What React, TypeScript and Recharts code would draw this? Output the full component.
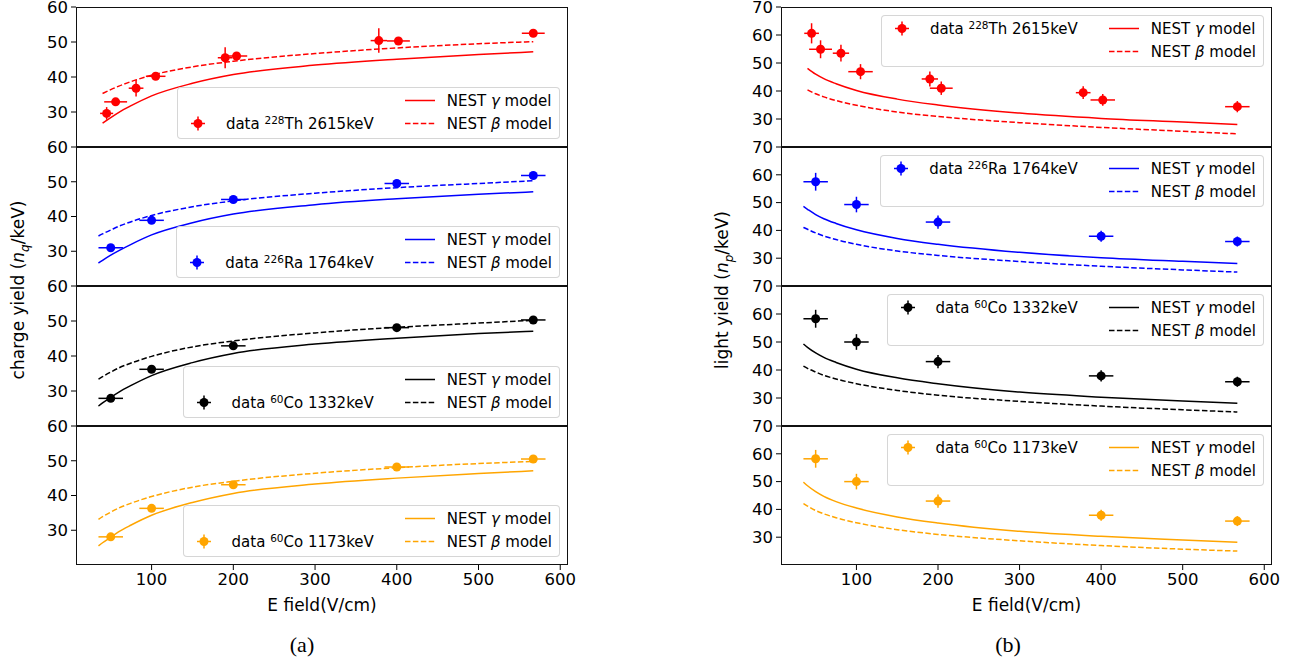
import React from "react";
import {
  ComposedChart,
  ErrorBar,
  Legend,
  Line,
  Scatter,
  XAxis,
  YAxis,
} from "recharts";

const FONT = '"DejaVu Sans", sans-serif';

// x positions of the measurements (V/cm)
const E_TH = [45, 56, 81, 105, 190, 204, 378, 402, 567];
const EX_TH = [8, 14, 9, 12, 9, 13, 10, 14, 14];
const E_CO = [50, 100, 200, 400, 567];
const EX_CO = [15, 15, 15, 15, 15];

// model curve sampling (V/cm)
const CURVE_E = [35, 40, 50, 60, 75, 100, 150, 200, 300, 400, 500, 567];
const CURVE_E_TH = [40, 50, 60, 75, 100, 150, 200, 300, 400, 500, 567];

// (a) charge yield
const Q_TH = [29.6, 32.9, 36.8, 40.2, 45.5, 46.0, 50.4, 50.3, 52.5];
const Q_TH_ERR = [1.8, 0.8, 2.4, 0.8, 3.0, 0.8, 3.5, 0.8, 0.8];
const Q_RA = [31.0, 38.9, 44.9, 49.5, 51.8];
const Q_CO1332 = [27.9, 36.2, 42.9, 48.1, 50.3];
const Q_CO1173 = [28.1, 36.3, 43.1, 48.2, 50.5];
const Q_ERR = [0.8, 0.8, 0.8, 0.8, 0.8];

const Q_GAMMA_TH = [26.8, 28.4, 29.9, 31.8, 34.6, 38.2, 40.7, 43.4, 45.1, 46.4, 47.2];
const Q_BETA_TH = [35.3, 36.4, 37.4, 38.7, 40.5, 42.9, 44.5, 46.7, 48.3, 49.5, 50.1];
const Q_GAMMA_RA = [26.6, 27.4, 28.9, 30.2, 32.0, 34.7, 38.2, 40.7, 43.4, 45.1, 46.4, 47.1];
const Q_BETA_RA = [34.4, 35.0, 36.1, 37.2, 38.5, 40.3, 42.8, 44.5, 46.7, 48.3, 49.5, 50.3];
const Q_GAMMA_CO1332 = [25.7, 26.6, 28.2, 29.7, 31.6, 34.4, 38.1, 40.7, 43.4, 45.1, 46.4, 47.1];
const Q_BETA_CO1332 = [33.4, 34.1, 35.4, 36.6, 38.0, 39.9, 42.6, 44.3, 46.6, 48.2, 49.4, 50.2];
const Q_GAMMA_CO1173 = [25.5, 26.4, 28.0, 29.6, 31.5, 34.3, 38.0, 40.6, 43.3, 45.0, 46.3, 47.1];
const Q_BETA_CO1173 = [33.1, 33.9, 35.2, 36.4, 37.8, 39.7, 42.4, 44.1, 46.4, 48.0, 49.2, 49.8];

// (b) light yield
const L_TH = [60.6, 54.9, 53.5, 46.9, 44.3, 41.0, 39.4, 36.8, 34.4];
const L_TH_ERR = [3.6, 3.2, 3.0, 2.7, 2.7, 2.4, 2.3, 2.1, 2.0];
const L_RA = [57.5, 49.3, 43.0, 37.9, 36.0];
const L_CO1332 = [58.3, 50.0, 43.0, 37.9, 35.8];
const L_CO1173 = [58.2, 50.0, 43.0, 37.9, 35.8];
const L_ERR = [3.2, 2.8, 2.4, 2.0, 1.8];

const L_GAMMA_TH = [48.1, 46.0, 44.4, 42.6, 40.2, 37.1, 35.0, 32.1, 30.2, 28.9, 28.0];
const L_BETA_TH = [40.4, 39.0, 37.9, 36.6, 34.9, 32.5, 30.9, 28.7, 27.0, 25.6, 24.7];
const L_GAMMA_RA = [48.6, 47.6, 45.7, 44.2, 42.5, 40.2, 37.1, 35.0, 32.1, 30.2, 28.9, 28.1];
const L_BETA_RA = [41.1, 40.4, 39.1, 38.0, 36.7, 35.0, 32.6, 31.0, 28.8, 27.1, 25.8, 25.0];
const L_GAMMA_CO1332 = [49.3, 48.1, 46.1, 44.5, 42.7, 40.3, 37.2, 35.1, 32.1, 30.3, 28.9, 28.1];
const L_BETA_CO1332 = [41.4, 40.6, 39.3, 38.1, 36.8, 35.1, 32.7, 31.0, 28.8, 27.1, 25.8, 25.0];
const L_GAMMA_CO1173 = [49.8, 48.5, 46.4, 44.7, 42.8, 40.5, 37.3, 35.1, 32.1, 30.3, 29.0, 28.2];
const L_BETA_CO1173 = [42.1, 41.2, 39.6, 38.4, 37.0, 35.2, 32.7, 31.0, 28.7, 27.0, 25.7, 25.0];

const SOURCES = [
  { color: "#ff0000", mass: "228", el: "Th", energy: "2615keV" },
  { color: "#0000ff", mass: "226", el: "Ra", energy: "1764keV" },
  { color: "#000000", mass: "60", el: "Co", energy: "1332keV" },
  { color: "#ffa500", mass: "60", el: "Co", energy: "1173keV" },
];

const X_DOMAIN = [7.5, 609.5];
const X_TICKS = [100, 200, 300, 400, 500, 600];

const ROW_TOPS = [7, 147, 286, 426];
const ROW_HEIGHTS = [140, 139, 140, 139];

interface Series {
  e: number[];
  y: number[];
  ex: number[];
  ey: number[];
  curveE: number[];
  gamma: number[];
  beta: number[];
}

const SERIES_A: Series[] = [
  { e: E_TH, y: Q_TH, ex: EX_TH, ey: Q_TH_ERR, curveE: CURVE_E_TH, gamma: Q_GAMMA_TH, beta: Q_BETA_TH },
  { e: E_CO, y: Q_RA, ex: EX_CO, ey: Q_ERR, curveE: CURVE_E, gamma: Q_GAMMA_RA, beta: Q_BETA_RA },
  { e: E_CO, y: Q_CO1332, ex: EX_CO, ey: Q_ERR, curveE: CURVE_E, gamma: Q_GAMMA_CO1332, beta: Q_BETA_CO1332 },
  { e: E_CO, y: Q_CO1173, ex: EX_CO, ey: Q_ERR, curveE: CURVE_E, gamma: Q_GAMMA_CO1173, beta: Q_BETA_CO1173 },
];

const SERIES_B: Series[] = [
  { e: E_TH, y: L_TH, ex: [9, 14, 10, 15, 10, 14, 9, 15, 15], ey: L_TH_ERR, curveE: CURVE_E_TH, gamma: L_GAMMA_TH, beta: L_BETA_TH },
  { e: E_CO, y: L_RA, ex: EX_CO, ey: L_ERR, curveE: CURVE_E, gamma: L_GAMMA_RA, beta: L_BETA_RA },
  { e: E_CO, y: L_CO1332, ex: EX_CO, ey: L_ERR, curveE: CURVE_E, gamma: L_GAMMA_CO1332, beta: L_BETA_CO1332 },
  { e: E_CO, y: L_CO1173, ex: EX_CO, ey: L_ERR, curveE: CURVE_E, gamma: L_GAMMA_CO1173, beta: L_BETA_CO1173 },
];

interface Panel {
  left: number;
  right: number;
  yDomain: [number, number];
  yTicks: number[];
  legendAtBottom: boolean;
  series: Series[];
}

const PANEL_A: Panel = {
  left: 76,
  right: 568,
  yDomain: [20, 60],
  yTicks: [30, 40, 50, 60],
  legendAtBottom: true,
  series: SERIES_A,
};

const PANEL_B: Panel = {
  left: 781,
  right: 1272,
  yDomain: [20, 70],
  yTicks: [30, 40, 50, 60, 70],
  legendAtBottom: false,
  series: SERIES_B,
};

function MarkerHandle({ color }: { color: string }) {
  return (
    <svg width={30} height={23} style={{ display: "block" }}>
      <line x1={8} x2={22} y1={11.5} y2={11.5} stroke={color} strokeWidth={1.5} />
      <line x1={15} x2={15} y1={4.5} y2={18.5} stroke={color} strokeWidth={1.5} />
      <circle cx={15} cy={11.5} r={4.5} fill={color} />
    </svg>
  );
}

function LineHandle({ color, dashed }: { color: string; dashed: boolean }) {
  return (
    <svg width={30} height={23} style={{ display: "block" }}>
      <line
        x1={0}
        x2={30}
        y1={11.5}
        y2={11.5}
        stroke={color}
        strokeWidth={1.5}
        strokeDasharray={dashed ? "5.5 2.4" : undefined}
      />
    </svg>
  );
}

function LegendBox({ src, dataRow }: { src: (typeof SOURCES)[number]; dataRow: number }) {
  const row: React.CSSProperties = { display: "flex", alignItems: "center", height: 23 };
  const dataEntry = (
    <div style={row}>
      <MarkerHandle color={src.color} />
      <span style={{ marginLeft: 13 }}>
        data <span style={{ fontSize: 10.5, verticalAlign: "0.5em", lineHeight: 0 }}>{src.mass}</span>
        {src.el} {src.energy}
      </span>
    </div>
  );
  const empty = <div style={row} />;
  return (
    <div
      style={{
        display: "flex",
        background: "rgba(255,255,255,0.8)",
        border: "1px solid rgba(204,204,204,0.8)",
        borderRadius: 4,
        padding: "1px 7px 3px 5px",
        fontFamily: FONT,
        fontSize: 15,
        color: "#000",
        whiteSpace: "nowrap",
      }}
    >
      <div>
        {dataRow === 0
          ? [<div key="d">{dataEntry}</div>, <div key="e">{empty}</div>]
          : [<div key="e">{empty}</div>, <div key="d">{dataEntry}</div>]}
      </div>
      <div style={{ marginLeft: 31 }}>
        <div style={row}>
          <LineHandle color={src.color} dashed={false} />
          <span style={{ marginLeft: 12 }}>
            NEST <i>γ</i> model
          </span>
        </div>
        <div style={row}>
          <LineHandle color={src.color} dashed={true} />
          <span style={{ marginLeft: 12 }}>
            NEST <i>β</i> model
          </span>
        </div>
      </div>
    </div>
  );
}

function Subplot({ panel, row }: { panel: Panel; row: number }) {
  const s = panel.series[row];
  const src = SOURCES[row];
  const isBottom = row === 3;
  const plotW = panel.right - panel.left;
  const plotH = ROW_HEIGHTS[row];
  const yW = 60;
  const mt = 12;
  const mr = 14;
  const xH = isBottom ? 52 : 0;
  const mb = isBottom ? 0 : 12;
  const width = yW + plotW + mr;
  const height = mt + plotH + mb + xH;

  const points = s.e.map((x, i) => ({ x, y: s.y[i], ex: s.ex[i], ey: s.ey[i] }));
  const gammaData = s.curveE.map((x, i) => ({ x, y: s.gamma[i] }));
  const betaData = s.curveE.map((x, i) => ({ x, y: s.beta[i] }));

  const legendPos: React.CSSProperties = panel.legendAtBottom
    ? { right: mr + 8, bottom: mb + xH + 8, top: "auto", left: "auto" }
    : { right: mr + 8, top: mt + 8, left: "auto" };

  const tickStyle = { fill: "#000", fontSize: 16.5, fontFamily: FONT };

  return (
    <div style={{ position: "absolute", left: panel.left - yW, top: ROW_TOPS[row] - mt, width, height }}>
      <ComposedChart width={width} height={height} margin={{ top: mt, right: mr, bottom: mb, left: 0 }}>
        <XAxis
          type="number"
          dataKey="x"
          domain={X_DOMAIN}
          ticks={X_TICKS}
          allowDataOverflow
          hide={!isBottom}
          height={xH}
          tickSize={5}
          tickMargin={3}
          axisLine={false}
          tickLine={{ stroke: "#000" }}
          tick={tickStyle}
          label={{
            value: "E field(V/cm)",
            position: "insideBottom",
            offset: 6,
            fill: "#000",
            fontSize: 17,
            fontFamily: FONT,
          }}
        />
        <YAxis
          type="number"
          dataKey="y"
          domain={panel.yDomain}
          ticks={panel.yTicks}
          allowDataOverflow
          width={yW}
          tickSize={5}
          tickMargin={3}
          axisLine={false}
          tickLine={{ stroke: "#000" }}
          tick={tickStyle}
        />
        <Line
          data={gammaData}
          dataKey="y"
          type="monotone"
          stroke={src.color}
          strokeWidth={1.5}
          dot={false}
          activeDot={false}
          isAnimationActive={false}
        />
        <Line
          data={betaData}
          dataKey="y"
          type="monotone"
          stroke={src.color}
          strokeWidth={1.5}
          strokeDasharray="5.5 2.4"
          dot={false}
          activeDot={false}
          isAnimationActive={false}
        />
        <Scatter
          data={points}
          dataKey="y"
          fill={src.color}
          isAnimationActive={false}
          shape={(p: any) => <circle cx={p.cx} cy={p.cy} r={4.5} fill={src.color} />}
        >
          <ErrorBar dataKey="ex" direction="x" width={0} stroke={src.color} strokeWidth={1.5} />
          <ErrorBar dataKey="ey" direction="y" width={0} stroke={src.color} strokeWidth={1.5} />
        </Scatter>
        <Legend
          layout="vertical"
          align="center"
          verticalAlign="middle"
          wrapperStyle={{ width: "auto", height: "auto", ...legendPos }}
          content={() => <LegendBox src={src} dataRow={panel.legendAtBottom ? 1 : 0} />}
        />
      </ComposedChart>
      <div
        style={{
          position: "absolute",
          left: yW,
          top: mt,
          width: plotW,
          height: plotH,
          border: "1px solid #111",
          boxSizing: "border-box",
          pointerEvents: "none",
        }}
      />
    </div>
  );
}

function YLabel({ x, main, sub }: { x: number; main: string; sub: string }) {
  return (
    <div
      style={{
        position: "absolute",
        left: x,
        top: 290,
        transform: "translate(-50%, -50%) rotate(-90deg)",
        fontFamily: FONT,
        fontSize: 17,
        whiteSpace: "nowrap",
        color: "#000",
      }}
    >
      {main} (<i>n</i>
      <sub style={{ fontSize: 12, fontStyle: "italic" }}>{sub}</sub>/keV)
    </div>
  );
}

function Caption({ x, text }: { x: number; text: string }) {
  return (
    <div
      style={{
        position: "absolute",
        left: x,
        top: 645,
        transform: "translate(-50%, -50%)",
        fontFamily: '"Liberation Serif", "DejaVu Serif", serif',
        fontSize: 22,
        color: "#000",
      }}
    >
      {text}
    </div>
  );
}

export default function App() {
  return (
    <div style={{ position: "absolute", left: 0, top: 0, width: 1298, height: 662, background: "#fff" }}>
      {[0, 1, 2, 3].map((r) => (
        <Subplot key={"a" + r} panel={PANEL_A} row={r} />
      ))}
      {[0, 1, 2, 3].map((r) => (
        <Subplot key={"b" + r} panel={PANEL_B} row={r} />
      ))}
      <YLabel x={20} main="charge yield" sub="q" />
      <YLabel x={724} main="light yield" sub="p" />
      <Caption x={302} text="(a)" />
      <Caption x={1008} text="(b)" />
    </div>
  );
}
